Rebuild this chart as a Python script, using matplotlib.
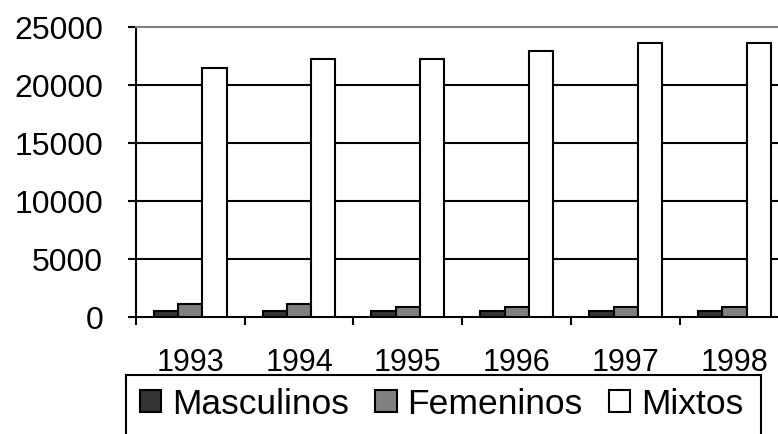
import matplotlib
matplotlib.use("Agg")
import matplotlib.pyplot as plt
import numpy as np
from matplotlib.patches import Patch
from matplotlib.lines import Line2D

years = ["1993", "1994", "1995", "1996", "1997", "1998"]
masculinos = [500, 500, 480, 480, 500, 500]
femeninos = [1050, 1050, 820, 820, 820, 820]
mixtos = [21400, 22240, 22240, 22930, 23620, 23620]

plt.rcParams['font.family'] = ['Liberation Sans', 'DejaVu Sans']

W, H = 778, 435
fig = plt.figure(figsize=(W / 100, H / 100), dpi=100)
left = 135.7 / W
right = 789.0 / W
bottom = (H - 317.5) / H
top = (H - 27.7) / H
ax = fig.add_axes([left, bottom, right - left, top - bottom])

x = np.arange(len(years))
bw = 0.223
series = [("Masculinos", masculinos, "#333333"),
          ("Femeninos", femeninos, "#808080"),
          ("Mixtos", mixtos, "#ffffff")]
for i, (name, vals, col) in enumerate(series):
    ax.bar(x + (i - 1) * bw, vals, bw, color=col, edgecolor="black",
           linewidth=1.5, zorder=3, label=name)

ax.set_xlim(-0.5, len(years) - 0.5)
ax.set_ylim(0, 25000)
ax.set_yticks(np.arange(0, 25001, 5000))
ax.set_yticklabels([str(v) for v in range(0, 25001, 5000)], fontsize=23)
for v in range(5000, 25000, 5000):
    ax.axhline(v, color="black", linewidth=1.5, zorder=1)

ax.set_xticks(x)
ax.set_xticklabels(years, fontsize=22)
ax.set_xticks(np.arange(-0.5, len(years)), minor=True)
ax.tick_params(axis="x", which="major", length=0, pad=22)
ax.tick_params(axis="x", which="minor", length=5.5, width=1.5, direction="out")
ax.tick_params(axis="y", length=5.5, width=1.5, direction="out", pad=18)

ax.spines["top"].set_color("#808080")
ax.spines["top"].set_linewidth(1.5)
ax.spines["right"].set_visible(False)
ax.spines["left"].set_linewidth(1.5)
ax.spines["bottom"].set_linewidth(1.5)

# legend frame (bottom edge lies outside the picture)
lx0, lx1, ly0 = 125.7 / W, 760.5 / W, (H - 375.7) / H
for xs, ys in [([lx0, lx0], [0, ly0]), ([lx0, lx1], [ly0, ly0]), ([lx1, lx1], [ly0, 0])]:
    fig.add_artist(Line2D(xs, ys, transform=fig.transFigure, color="black",
                          linewidth=1.5, clip_on=False))
handles = [Patch(facecolor=c, edgecolor="black", linewidth=1.5) for _, _, c in series]
fig.legend(handles, [s[0] for s in series], loc="center left",
           bbox_to_anchor=(140 / W, (H - 405) / H), ncol=3, frameon=False,
           fontsize=25.5, handlelength=0.6, handleheight=0.6, handletextpad=0.3,
           columnspacing=0.75, borderpad=0, borderaxespad=0)

fig.savefig("out.png", dpi=100)
